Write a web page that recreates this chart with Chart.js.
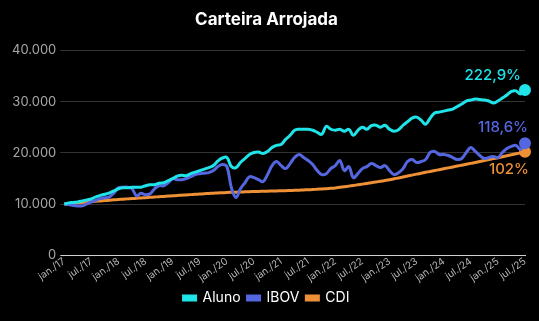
<!DOCTYPE html>
<html>
<head>
<meta charset="utf-8">
<script src="https://cdn.jsdelivr.net/npm/chart.js@4/dist/chart.umd.min.js"></script>
<style>
	html, body { margin: 0; padding: 0; background: #000; }
	#wrap { width: 539px; height: 321px; }
</style>
</head>
<body>
<div id="wrap"><canvas id="myChart_arrojada"></canvas></div>
<script>
// Data
const monthNames = ['jan.', 'fev.', 'mar.', 'abr.', 'mai.', 'jun.', 'jul.', 'ago.', 'set.', 'out.', 'nov.', 'dez.'];
const years = ['17', '18', '19', '20', '21', '22', '23', '24', '25'];
const labels = [];
years.forEach(function (y) {
	monthNames.forEach(function (m) {
		if (labels.length < 103) labels.push(m + '/' + y);
	});
});

const aluno = [
	10000, 10240, 10330, 10430, 10630, 10830, 11020, 11420, 11710, 11910, 12200, 12600,
	12990, 13190, 13190, 13290, 13290, 13290, 13580, 13780, 13780, 14070, 14170, 14570,
	14960, 15450, 15650, 15550, 15940, 16240, 16540, 16830, 17130, 17520, 18410, 19000,
	19090, 17320, 17130, 18110, 18900, 19690, 20080, 20180, 19880, 20280, 21060, 21460,
	21650, 22640, 23430, 24410, 24610, 24610, 24610, 24410, 24020, 23620, 25200, 24610,
	24410, 24610, 24210, 24610, 23430, 24410, 25000, 24610, 25300, 25390, 25000, 25390,
	24610, 24210, 24510, 25390, 26080, 26770, 26970, 26380, 25590, 26770, 27760, 27950,
	28150, 28350, 28540, 29040, 29530, 30120, 30320, 30510, 30410, 30320, 30120, 29720,
	30120, 30710, 31300, 31990, 32090, 31500, 32290
];
const ibov = [
	10000, 9940, 9740, 9650, 9650, 10040, 10430, 10730, 11120, 11220, 11420, 12200,
	13190, 13290, 13290, 12990, 11610, 12110, 11810, 12010, 12990, 13580, 13580, 14170,
	14960, 14760, 14760, 14960, 15350, 15750, 15940, 16040, 16140, 16540, 17320, 17720,
	17320, 13190, 11300, 12990, 14170, 15350, 15160, 14760, 14370, 15750, 17520, 18310,
	17520, 16930, 17910, 19090, 19690, 19090, 18500, 17720, 16540, 15750, 15940, 16930,
	17520, 18500, 16540, 17320, 15160, 15940, 16930, 17320, 17910, 17520, 17130, 17520,
	16540, 15750, 16140, 16930, 18310, 18700, 18110, 18310, 18700, 20080, 20280, 19690,
	19690, 19490, 19090, 18700, 18900, 20080, 21060, 20280, 19490, 18900, 19090, 19290,
	19090, 20080, 20870, 21260, 21460, 20670, 21860
];
const cdi = [
	10000, 10080, 10160, 10240, 10320, 10400, 10480, 10550, 10620, 10690, 10760, 10830,
	10900, 10960, 11020, 11080, 11140, 11200, 11260, 11320, 11380, 11440, 11500, 11560,
	11620, 11680, 11740, 11790, 11850, 11910, 11960, 12020, 12070, 12120, 12170, 12220,
	12270, 12300, 12330, 12360, 12390, 12420, 12450, 12470, 12500, 12520, 12550, 12570,
	12600, 12630, 12660, 12690, 12720, 12760, 12800, 12850, 12900, 12960, 13020, 13080,
	13150, 13270, 13390, 13510, 13640, 13770, 13900, 14040, 14180, 14320, 14460, 14600,
	14750, 14930, 15110, 15300, 15480, 15660, 15850, 16020, 16200, 16370, 16550, 16720,
	16900, 17070, 17250, 17420, 17600, 17770, 17950, 18130, 18320, 18500, 18680, 18870,
	19050, 19240, 19430, 19620, 19810, 20000, 20200
];
const endLabels = ['222,9%', '118,6%', '102%'];

const colAluno = '#1FE5EA';
const colIbov = '#5567E0';
const colCdi = '#EE9036';

function lastOnly(r) {
	return function (c) { return c.dataIndex === labels.length - 1 ? r : 0; };
}

// end value labels
const endLabelPlugin = {
	id: 'endLabels',
	afterDatasetsDraw(chart) {
		const ctx = chart.ctx;
		const offs = [[-4, -7, 'bottom'], [3, -8, 'bottom'], [4, 10, 'top']];
		ctx.save();
		ctx.font = '500 15px Inter, sans-serif';
		ctx.textAlign = 'right';
		chart.data.datasets.forEach(function (ds, i) {
			const meta = chart.getDatasetMeta(i);
			const pt = meta.data[meta.data.length - 1];
			ctx.fillStyle = ds.borderColor;
			ctx.textBaseline = offs[i][2];
			ctx.fillText(endLabels[i], pt.x + offs[i][0], pt.y + offs[i][1]);
		});
		ctx.restore();
	}
};

const ctx = document.getElementById('myChart_arrojada').getContext('2d');
const myChart_arrojada = new Chart(ctx, {
	type: 'line',
	data: {
		labels: labels,
		datasets: [{
			label: 'Aluno',
			data: aluno,
			borderColor: colAluno,
			backgroundColor: colAluno,
			borderWidth: 3,
			tension: 0.4,
			pointRadius: lastOnly(4.5),
		}, {
			label: 'IBOV',
			data: ibov,
			borderColor: colIbov,
			backgroundColor: colIbov,
			borderWidth: 3,
			tension: 0.4,
			pointRadius: lastOnly(4.5),
		}, {
			label: 'CDI',
			data: cdi,
			borderColor: colCdi,
			backgroundColor: colCdi,
			borderWidth: 3,
			tension: 0.4,
			pointRadius: lastOnly(4.5),
		}]
	},
	options: {
		animation: false,
		maintainAspectRatio: false,
		responsive: true,
		layout: {
			padding: { left: 8, right: 14, top: 0, bottom: 6 }
		},
		scales: {
			x: {
				grid: { display: false, drawTicks: false },
				border: { color: '#d0d0d0', width: 1 },
				ticks: {
					autoSkip: false,
					minRotation: 35,
					maxRotation: 35,
					color: '#b5b5b5',
					padding: 0,
					font: { family: 'Inter, sans-serif', size: 10 },
					callback: function (value, index) {
						return index % 6 === 0 ? labels[index] : '';
					}
				}
			},
			y: {
				min: 0,
				max: 40000,
				border: { display: false },
				grid: {
					color: function (c) { return c.tick.value === 0 ? '#d0d0d0' : '#333333'; },
					tickLength: 4,
				},
				ticks: {
					stepSize: 10000,
					color: '#a8a8a8',
					padding: 4,
					font: { family: 'Inter, sans-serif', size: 13 },
					callback: function (value) {
						return String(value).replace(/\B(?=(\d{3})+(?!\d))/g, '.');
					}
				}
			}
		},
		plugins: {
			title: {
				display: true,
				text: 'Carteira Arrojada',
				color: '#ffffff',
				font: { family: 'Inter, sans-serif', size: 17, weight: 'bold' },
				padding: { top: 10, bottom: 20 }
			},
			legend: {
				position: 'bottom',
				labels: {
					color: '#ffffff',
					boxWidth: 12,
					boxHeight: 4,
					padding: 7,
					font: { family: 'Inter, sans-serif', size: 14 }
				}
			},
			tooltip: { enabled: false }
		}
	},
	plugins: [endLabelPlugin]
});
</script>
</body>
</html>
